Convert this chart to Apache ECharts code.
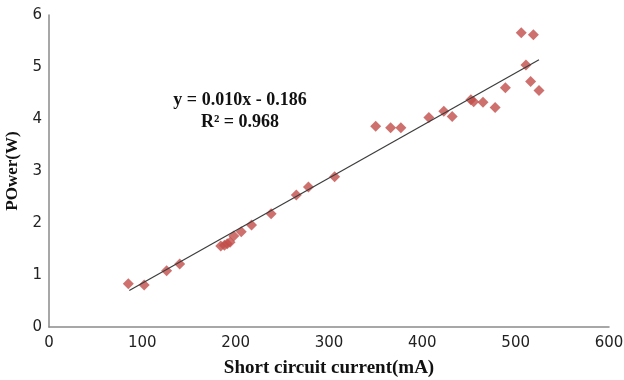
<!DOCTYPE html>
<html><head><meta charset="utf-8">
<script src="https://cdn.jsdelivr.net/npm/echarts@6/dist/echarts.min.js"></script>
<style>html,body{margin:0;padding:0;background:#fff}#c{width:624px;height:380px}</style>
</head><body><div id="c"></div>
<script>
const currentMA = [85, 102, 126, 140, 184, 188, 191, 194, 198, 206, 217, 238, 265, 278, 306, 350, 366, 377, 407, 423, 432, 452, 455, 465, 478, 489, 506, 511, 516, 519, 525];
const powerW   = [0.83, 0.81, 1.08, 1.21, 1.56, 1.57, 1.60, 1.63, 1.75, 1.83, 1.96, 2.18, 2.54, 2.69, 2.89, 3.86, 3.83, 3.83, 4.03, 4.15, 4.05, 4.37, 4.33, 4.32, 4.22, 4.60, 5.66, 5.04, 4.72, 5.62, 4.55];
const trendX = [86, 525];
const trendY = [0.70, 5.14];
const xTicks = [0, 100, 200, 300, 400, 500, 600];
const yTicks = [0, 1, 2, 3, 4, 5, 6];
const eqLine1 = 'y = 0.010x - 0.186';
const eqLine2 = 'R\u00B2 = 0.968';

const chart = echarts.init(document.getElementById('c'));
const axisStyle = {lineStyle: {color: '#8a8a8a', width: 1.5}};
const eqFont = 'bold 18px "Liberation Serif"';
chart.setOption({
  animation: false,
  grid: {left: 49, right: 15, top: 15, bottom: 53, containLabel: false, outerBoundsMode: 'none'},
  xAxis: {
    type: 'value', min: xTicks[0], max: xTicks[xTicks.length-1], interval: 100,
    axisLine: axisStyle, axisTick: {show: false}, splitLine: {show: false},
    axisLabel: {color: '#222', fontSize: 15, fontFamily: 'DejaVu Sans', margin: 9},
    name: 'Short circuit current(mA)', nameLocation: 'middle', nameGap: 32,
    nameTextStyle: {fontFamily: 'Liberation Serif', fontWeight: 'bold', fontSize: 19, color: '#111'}
  },
  yAxis: {
    type: 'value', min: yTicks[0], max: yTicks[yTicks.length-1], interval: 1,
    axisLine: axisStyle, axisTick: {show: false}, splitLine: {show: false},
    axisLabel: {color: '#222', fontSize: 15, fontFamily: 'DejaVu Sans', margin: 7},
    name: 'POwer(W)', nameLocation: 'middle', nameGap: 23,
    nameTextStyle: {fontFamily: 'Liberation Serif', fontWeight: 'bold', fontSize: 17, color: '#111'}
  },
  graphic: [
    {type: 'text', x: 240, y: 100, style: {text: eqLine1, font: eqFont, fill: '#111', textAlign: 'center', textVerticalAlign: 'middle'}},
    {type: 'text', x: 240, y: 122, style: {text: eqLine2, font: eqFont, fill: '#111', textAlign: 'center', textVerticalAlign: 'middle'}}
  ],
  series: [
    {type: 'line', data: trendX.map((x, i) => [x, trendY[i]]), symbol: 'none',
     lineStyle: {color: '#3c3c3c', width: 1.2}, z: 3},
    {type: 'scatter', data: currentMA.map((x, i) => [x, powerW[i]]), symbol: 'diamond',
     symbolSize: 11, itemStyle: {color: '#C24E4A'}, z: 2}
  ]
});
</script></body></html>
